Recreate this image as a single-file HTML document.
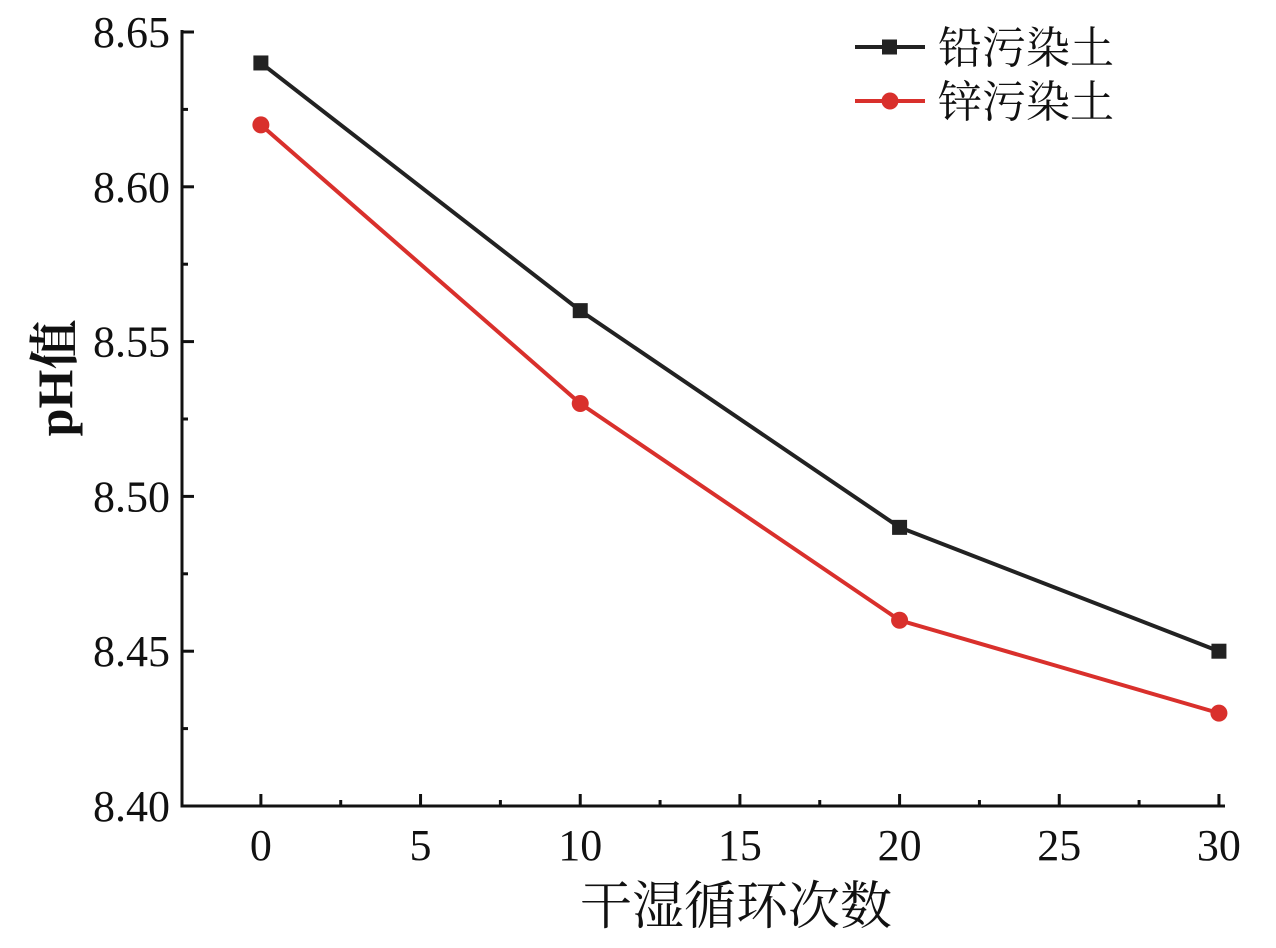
<!DOCTYPE html>
<html><head><meta charset="utf-8"><style>
body{margin:0;background:#fff;}
svg text{font-family:"Liberation Serif","Noto Serif CJK SC",serif;fill:#111;}
</style></head><body>
<svg width="1276" height="943">
<g id="axes"></g><g id="plot"></g>
</svg>
<script>
const xTicks=[0,5,10,15,20,25,30];
const yTicks=[8.40,8.45,8.50,8.55,8.60,8.65];
const cycles=[0,10,20,30];
const leadSeries=[8.64,8.56,8.49,8.45];
const zincSeries=[8.62,8.53,8.46,8.43];
const X0=182,X1=1225,Y0=806,Y1=32;
const xmin=-2.47,xmax=30.19,ymin=8.40,ymax=8.65;
const sx=v=>X0+(v-xmin)/(xmax-xmin)*(X1-X0);
const sy=v=>Y0-(v-ymin)/(ymax-ymin)*(Y0-Y1);
const NS="http://www.w3.org/2000/svg";
function mk(tag,attrs,parent,text){const e=document.createElementNS(NS,tag);for(const k in attrs)e.setAttribute(k,attrs[k]);if(text!==undefined)e.textContent=text;parent.appendChild(e);return e;}
const ax=document.getElementById('axes'),pl=document.getElementById('plot');
let e;
e=mk('line',{x1:X0,y1:Y1-2,x2:X0,y2:Y0+1.5,stroke:'#111','stroke-width':3},ax);


e=mk('line',{x1:X0-1.5,y1:Y0,x2:X1,y2:Y0,stroke:'#111','stroke-width':3},ax);


xTicks.forEach(t=>{
 mk('line',{x1:sx(t),y1:Y0,x2:sx(t),y2:Y0-12,stroke:'#111','stroke-width':3},ax);
 mk('line',{x1:sx(t+2.5),y1:Y0,x2:sx(t+2.5),y2:Y0-6,stroke:'#111','stroke-width':3},ax);
 e=mk('text',{x:sx(t),y:860,'font-size':44,'text-anchor':'middle'},ax,String(t));
 
 
});
yTicks.forEach((t,i)=>{
 mk('line',{x1:X0,y1:sy(t),x2:X0+12,y2:sy(t),stroke:'#111','stroke-width':3},ax);
 if(i<yTicks.length-1)mk('line',{x1:X0,y1:sy(t+0.025),x2:X0+6,y2:sy(t+0.025),stroke:'#111','stroke-width':3},ax);
 e=mk('text',{x:170,y:sy(t)+15,'font-size':44,'text-anchor':'end'},ax,t.toFixed(2));
 
 
});
e=mk('text',{x:0,y:0,'font-size':50,'font-weight':'bold','text-anchor':'middle',transform:'translate(72,378) rotate(-90)'},ax,'pH值');


e=mk('text',{x:736,y:924,'font-size':52,'text-anchor':'middle'},ax,'干湿循环次数');


function series(vals,color,shape,name){
 const pts=cycles.map((c,i)=>sx(c)+','+sy(vals[i])).join(' ');
 e=mk('polyline',{points:pts,fill:'none',stroke:color,'stroke-width':4},pl);
 
 
 cycles.forEach((c,i)=>{
  if(shape==='sq')e=mk('rect',{x:sx(c)-7.5,y:sy(vals[i])-7.5,width:15,height:15,fill:color},pl);
  else e=mk('circle',{cx:sx(c),cy:sy(vals[i]),r:8.5,fill:color},pl);
  
  
 });
}
series(leadSeries,'#222','sq','lead-series');
series(zincSeries,'#d9302c','ci','zinc-series');
e=mk('line',{x1:855,y1:47,x2:925,y2:47,stroke:'#222','stroke-width':4},pl);


mk('rect',{x:882,y:39.5,width:15,height:15,fill:'#222'},pl);
e=mk('text',{x:938,y:63,'font-size':44},pl,'铅污染土');


e=mk('line',{x1:855,y1:101,x2:925,y2:101,stroke:'#d9302c','stroke-width':4},pl);


mk('circle',{cx:890,cy:101,r:8.5,fill:'#d9302c'},pl);
e=mk('text',{x:938,y:117,'font-size':44},pl,'锌污染土');


</script>
</body></html>
